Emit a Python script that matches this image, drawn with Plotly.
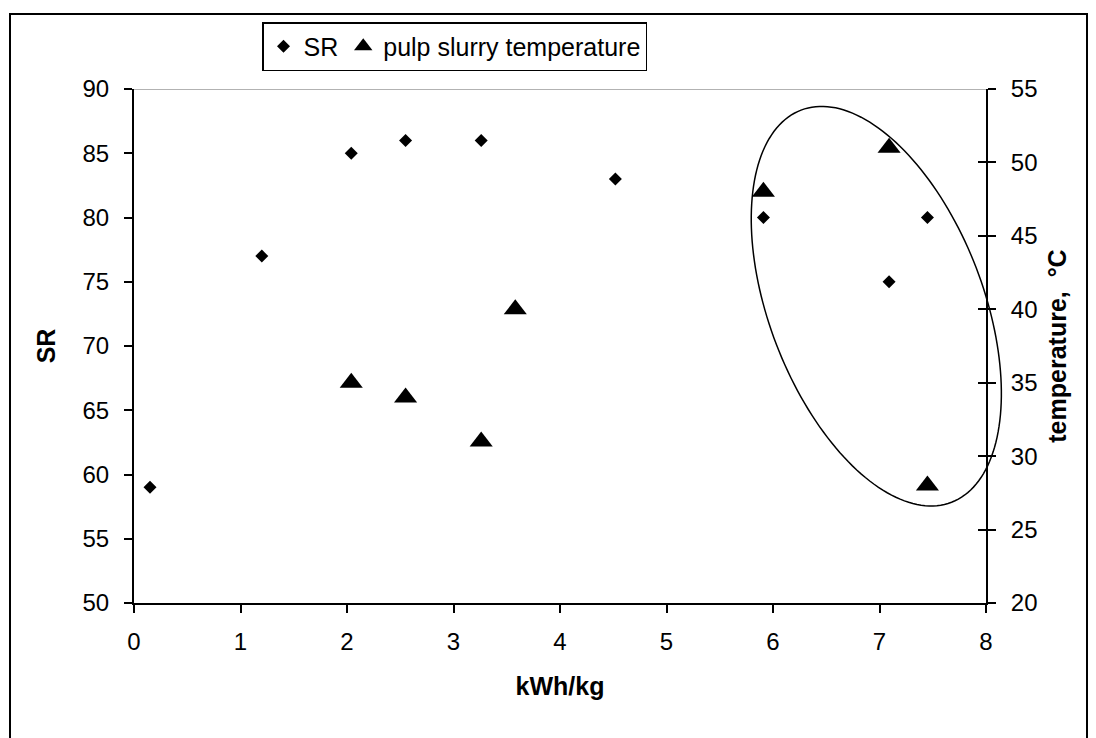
import numpy as np
import plotly.graph_objects as go

# ---- data ----
kwh_sr = [0.15, 1.2, 2.04, 2.55, 3.26, 4.52, 5.91, 7.09, 7.45]
sr_vals = [59, 77, 85, 86, 86, 83, 80, 75, 80]
kwh_temp = [2.04, 2.55, 3.26, 3.58, 5.91, 7.09, 7.45]
temp_vals = [35, 34, 31, 40, 48, 51, 28]

x_ticks = [0, 1, 2, 3, 4, 5, 6, 7, 8]
sr_ticks = [50, 55, 60, 65, 70, 75, 80, 85, 90]
temp_ticks = [20, 25, 30, 35, 40, 45, 50, 55]

# ---- layout geometry ----
W, H = 1096, 738
ML, MR, MT, MB = 134, 110, 89, 135
PW, PH = W - ML - MR, H - MT - MB
XR = [0, 8]
YR = [50, 90]
Y2R = [20, 55]
FONT = "Arial, 'Liberation Sans', sans-serif"
FS = 25
TFS = 24


def px_to_paper_x(px):
    return (px - ML) / PW


def px_to_paper_y(py):
    return (H - MB - py) / PH


# ellipse (highlight annotation): centre in data units, semi-axes in pixels
ell_cx, ell_cy = 6.97, 73.1
ell_a, ell_b, ell_rot = 210, 107, np.deg2rad(69)
t = np.linspace(0, 2 * np.pi, 181)
dx = ell_a * np.cos(t) * np.cos(ell_rot) - ell_b * np.sin(t) * np.sin(ell_rot)
dy = ell_a * np.cos(t) * np.sin(ell_rot) + ell_b * np.sin(t) * np.cos(ell_rot)
# convert to paper coordinates (so the outline is not clipped at the axes)
cxp = (ell_cx - XR[0]) / (XR[1] - XR[0])
cyp = (ell_cy - YR[0]) / (YR[1] - YR[0])
ex = cxp + dx / PW
ey = cyp - dy / PH
ell_path = "M " + " L ".join(f"{a:.5f},{b:.5f}" for a, b in zip(ex, ey)) + " Z"

fig = go.Figure()
fig.add_trace(go.Scatter(
    x=kwh_sr, y=sr_vals, mode="markers", name="SR",
    marker=dict(symbol="diamond", size=10, color="black"),
    yaxis="y",
))
fig.add_trace(go.Scatter(
    x=kwh_temp, y=temp_vals, mode="markers", name="pulp slurry temperature",
    marker=dict(symbol="triangle-up", size=20, color="black"),
    yaxis="y2",
))
# helper (empty) trace to carry the inner tick marks of the right axis
fig.add_trace(go.Scatter(x=[], y=[], yaxis="y3", showlegend=False, hoverinfo="skip"))

axis_common = dict(
    showgrid=False, zeroline=False, showline=True, linecolor="black", linewidth=2,
    tickcolor="black", tickwidth=1.5, ticklen=8,
    tickfont=dict(family=FONT, size=TFS, color="black"),
)

fig.update_layout(
    width=W, height=H,
    margin=dict(l=ML, r=MR, t=MT, b=MB, pad=0),
    paper_bgcolor="white", plot_bgcolor="white",
    font=dict(family=FONT, size=FS, color="black"),
    xaxis=dict(
        range=XR, tickvals=x_ticks, ticks="outside", ticklabelstandoff=8,
        title=dict(text="<b>kWh/kg</b>", font=dict(family=FONT, size=FS), standoff=24),
        **axis_common,
    ),
    yaxis=dict(
        range=YR, tickvals=sr_ticks, ticks="outside", ticklabelstandoff=10,
        title=dict(text="<b>SR</b>", font=dict(family=FONT, size=FS), standoff=20),
        **axis_common,
    ),
    yaxis2=dict(
        range=Y2R, tickvals=temp_ticks, ticks="outside", side="right",
        overlaying="y", anchor="x", ticklabelstandoff=10,
        title=dict(text="<b>temperature,  °C</b>", font=dict(family=FONT, size=FS), standoff=12),
        **axis_common,
    ),
    yaxis3=dict(
        range=Y2R, tickvals=temp_ticks, ticks="inside", side="right",
        overlaying="y", anchor="x", showticklabels=False, showgrid=False,
        zeroline=False, showline=False, tickcolor="black", tickwidth=1.5, ticklen=8,
    ),
    legend=dict(
        orientation="h", x=px_to_paper_x(262), y=px_to_paper_y(22),
        xanchor="left", yanchor="top",
        bordercolor="black", borderwidth=1.5, bgcolor="white",
        font=dict(family=FONT, size=FS, color="black"),
        itemwidth=30, tracegroupgap=0,
    ),
    showlegend=True,
    shapes=[
        # grey top border of the plot area (at SR = 90)
        dict(type="line", xref="x", yref="y", x0=XR[0], x1=XR[1], y0=YR[1], y1=YR[1],
             line=dict(color="#999999", width=1.5)),
        # highlight ellipse
        dict(type="path", xref="paper", yref="paper", path=ell_path,
             line=dict(color="black", width=1.5), fillcolor="rgba(0,0,0,0)"),
        # outer chart frame
        dict(type="rect", xref="paper", yref="paper",
             x0=px_to_paper_x(10), x1=px_to_paper_x(1087),
             y0=px_to_paper_y(760), y1=px_to_paper_y(14),
             line=dict(color="black", width=2), fillcolor="rgba(0,0,0,0)", layer="below"),
    ],
)

fig.write_html("out.html")
